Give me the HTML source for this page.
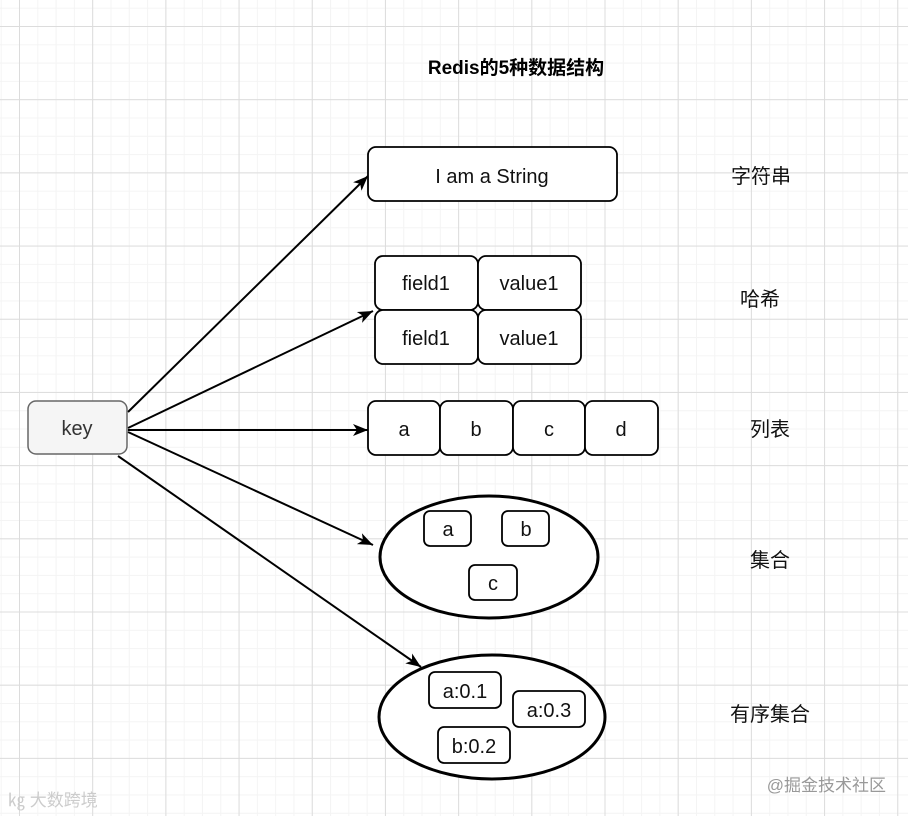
<!DOCTYPE html>
<html><head><meta charset="utf-8"><style>
html,body{margin:0;padding:0}
body{width:908px;height:816px;overflow:hidden;position:relative;background-color:#fff;
background-image:
linear-gradient(to right,#dcdcdc 1px,transparent 1px),
linear-gradient(to bottom,#dcdcdc 1px,transparent 1px),
linear-gradient(to right,#f4f4f4 1px,transparent 1px),
linear-gradient(to bottom,#f4f4f4 1px,transparent 1px);
background-size:73.2px 73.2px,73.2px 73.2px,18.3px 18.3px,18.3px 18.3px;
background-position:19px 26px,19px 26px,19px 26px,19px 26px;}
svg{position:absolute;left:0;top:0}
text{font-family:"Liberation Sans","Noto Sans CJK SC",sans-serif}
</style></head><body>
<svg width="908" height="816" viewBox="0 0 908 816">
<defs><marker id="a" markerWidth="16" markerHeight="16" refX="15" refY="8" orient="auto" markerUnits="userSpaceOnUse" viewBox="0 0 16 16"><path d="M0,2 L15,8 L0,14 L4,8 z" fill="#000"/></marker></defs>
<text x="516" y="74" font-size="19" font-weight="bold" text-anchor="middle" fill="#000">Redis的5种数据结构</text>
<g stroke="#000" stroke-width="2" fill="none" marker-end="url(#a)">
<line x1="128" y1="412" x2="368" y2="176"/>
<line x1="128" y1="428" x2="373" y2="311"/>
<line x1="128" y1="430" x2="368" y2="430"/>
<line x1="128" y1="432" x2="373" y2="545"/>
<line x1="118" y1="456" x2="421" y2="667"/>
</g>
<rect x="28" y="401" width="99" height="53" rx="8" fill="#f5f5f5" stroke="#666" stroke-width="1.5"/>
<text x="77" y="435" font-size="20" text-anchor="middle" fill="#333">key</text>
<g stroke="#000" stroke-width="1.8" fill="#fff">
<rect x="368" y="147" width="249" height="54" rx="8"/>
<rect x="375" y="256" width="103" height="54" rx="8"/>
<rect x="478" y="256" width="103" height="54" rx="8"/>
<rect x="375" y="310" width="103" height="54" rx="8"/>
<rect x="478" y="310" width="103" height="54" rx="8"/>
<rect x="368" y="401" width="72" height="54" rx="8"/>
<rect x="440" y="401" width="73" height="54" rx="8"/>
<rect x="513" y="401" width="72" height="54" rx="8"/>
<rect x="585" y="401" width="73" height="54" rx="8"/>
</g>
<g font-size="20" text-anchor="middle" fill="#111">
<text x="492" y="183">I am a String</text>
<text x="426" y="290">field1</text><text x="529" y="290">value1</text>
<text x="426" y="345">field1</text><text x="529" y="345">value1</text>
<text x="404" y="436">a</text><text x="476" y="436">b</text><text x="549" y="436">c</text><text x="621" y="436">d</text>
</g>
<ellipse cx="489" cy="557" rx="109" ry="61" fill="#fff" stroke="#000" stroke-width="3"/>
<ellipse cx="492" cy="717" rx="113" ry="62" fill="#fff" stroke="#000" stroke-width="3"/>
<g stroke="#000" stroke-width="1.8" fill="#fff">
<rect x="424" y="511" width="47" height="35" rx="6"/>
<rect x="502" y="511" width="47" height="35" rx="6"/>
<rect x="469" y="565" width="48" height="35" rx="6"/>
<rect x="429" y="672" width="72" height="36" rx="6"/>
<rect x="513" y="691" width="72" height="36" rx="6"/>
<rect x="438" y="727" width="72" height="36" rx="6"/>
</g>
<g font-size="20" text-anchor="middle" fill="#111">
<text x="448" y="536">a</text><text x="526" y="536">b</text><text x="493" y="590">c</text>
<text x="465" y="698">a:0.1</text><text x="549" y="717">a:0.3</text><text x="474" y="753">b:0.2</text>
</g>
<g font-size="20" text-anchor="middle" fill="#111">
<text x="761" y="183">字符串</text>
<text x="760" y="306">哈希</text>
<text x="770" y="436">列表</text>
<text x="770" y="567">集合</text>
<text x="770" y="721">有序集合</text>
</g>
<text x="886" y="791" font-size="17" text-anchor="end" fill="#999">@掘金技术社区</text>
<text x="8" y="806" font-size="17" fill="#ccc">㎏ 大数跨境</text>
</svg>
</body></html>
